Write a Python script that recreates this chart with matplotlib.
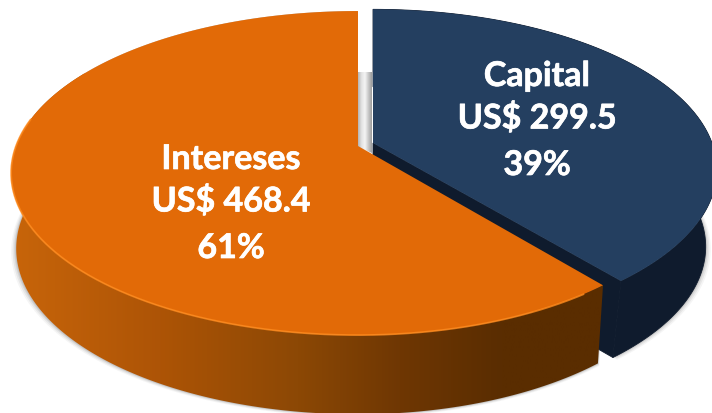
import numpy as np
import matplotlib
matplotlib.use("Agg")
import matplotlib.pyplot as plt
import matplotlib.patheffects as pe
from matplotlib.colors import LinearSegmentedColormap
from matplotlib.patches import Polygon

categories = ["Intereses", "Capital"]
values = [468.4, 299.5]
percents = ["61%", "39%"]

W, H = 712, 414
TILT = 0.167


def project(ang, cx, cy, rx, ry, rx_right=None):
    # circle seen in perspective, apex is not the centre of the ellipse
    u, v = np.cos(ang), np.sin(ang)
    w = 1 + TILT * v
    rr = rx if rx_right is None else rx_right
    return cx + np.where(u < 0, rx, rr) * u / w, cy - ry * v / w


def arc(a0, a1, *geom):
    x, y = project(np.radians(np.linspace(a0, a1, 240)), *geom)
    return np.column_stack([x, y])


def gradient_fill(ax, pts, colors, extent, zorder):
    cmap = LinearSegmentedColormap.from_list("g", colors)
    grad = np.linspace(0, 1, 256).reshape(1, -1)
    im = ax.imshow(grad, cmap=cmap, extent=extent, aspect="auto", zorder=zorder)
    im.set_clip_path(Polygon(pts, closed=True, transform=ax.transData))


fig = plt.figure(figsize=(W / 100, H / 100), dpi=100)
ax = fig.add_axes([0, 0, 1, 1])
ax.set_xlim(0, W)
ax.set_ylim(H, 0)
ax.axis("off")

split = 90 + 360 * values[0] / sum(values)

# cx, cy, rx, ry, rx on the right side
o_top = (358, 147, 342, 157.5, 335)
o_bot = (358, 222, 337, 161, 328)
b_top = (373, 144, 339, 156)
b_bot = (373, 221, 328, 155.5)

o_arc = arc(90, split, *o_top)
b_arc = arc(split, 450, *b_top)
b_low = arc(split, 450, *b_bot)

# soft shadow under the pie
for grow, alpha in [(5, 0.06), (3.5, 0.09), (2, 0.12), (1, 0.14)]:
    g = (o_bot[0], o_bot[1] + grow * 0.5, o_bot[2] + grow, o_bot[3], o_bot[4] + grow * 0.4)
    ax.add_patch(Polygon(np.vstack([arc(125, split, *g), o_arc[::-1]]), closed=True, fc="#555555", ec="none",
                         alpha=alpha, zorder=1))
    g = (b_bot[0], b_bot[1] + grow * 0.5, b_bot[2] + grow, b_bot[3])
    ax.add_patch(Polygon(np.vstack([arc(split, 395, *g), b_arc[:int(len(b_arc) * 0.8)][::-1]]), closed=True,
                         fc="#555555", ec="none", alpha=alpha, zorder=1))

# grey wall seen through the gap
gradient_fill(ax, [(358, 73), (372, 73), (372, 154), (358, 148)],
              ["#b4b4b4", "#e2e2e2", "#f4f4f4", "#c8c8c8", "#9c9c9c"], (358, 372, 154, 73), 2)

# blue slice
ax.add_patch(Polygon(np.vstack([b_arc, b_low[::-1]]), closed=True, fc="#0f1b2d", ec="#0f1b2d", lw=0.6, zorder=3))
ax.add_patch(Polygon(np.array([[b_top[0], b_top[1]], b_arc[0], b_low[0], [b_bot[0], b_bot[1]]]), closed=True,
                     fc="#0f1b2d", ec="#0f1b2d", lw=0.6, zorder=3))
ax.add_patch(Polygon(np.vstack([[b_top[0], b_top[1]], b_arc]), closed=True, fc="#243f60", ec="none", zorder=4))

# orange slice
front = arc(150, split, *o_top)
front_low = arc(150, split, *o_bot)
side_colors = [(0, "#c8650a"), (0.25, "#ad5406"), (0.48, "#8c4805"), (0.65, "#6f3703"), (0.82, "#5a2d01"),
               (1, "#5a2d00")]
gradient_fill(ax, np.vstack([front, front_low[::-1]]), side_colors, (10, 610, 414, 0), 5)
ax.add_patch(Polygon(np.vstack([[o_top[0], o_top[1]], o_arc]), closed=True, fc="#e26a07", ec="none", zorder=6))
edge = arc(170, split - 4, *o_top)
ax.plot(edge[:, 0], edge[:, 1], color="#ff8a1c", lw=1.3, alpha=0.8, zorder=7, solid_capstyle="round")

# labels
font = dict(color="white", fontsize=24.5, fontweight="bold", family="Lato", ha="center", va="center", zorder=8,
            path_effects=[pe.withStroke(linewidth=0.5, foreground="white")])
label_x = [231, 537]
label_y = [[160, 202, 249], [77, 119, 166]]
for i, name in enumerate(categories):
    lines = [name, "US$ {:.1f}".format(values[i]), percents[i]]
    for txt, y in zip(lines, label_y[i]):
        ax.text(label_x[i], y, txt, **font)

fig.savefig("out.png", dpi=100)
